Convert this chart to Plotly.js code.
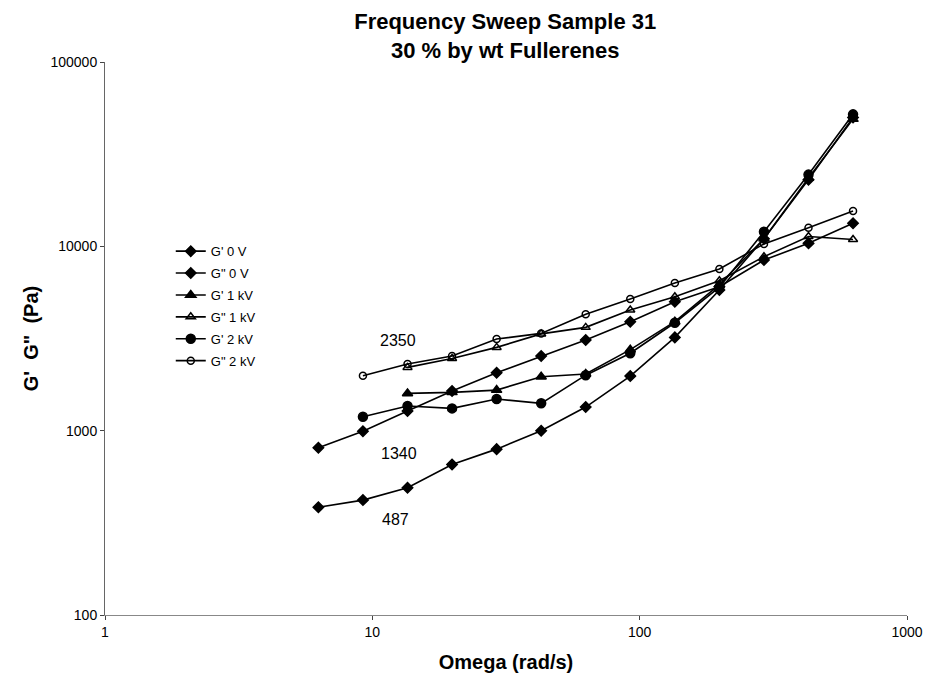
<!DOCTYPE html>
<html>
<head>
<meta charset="utf-8">
<script src="https://cdn.plot.ly/plotly-3.0.1.min.js"></script>
<style>html,body{margin:0;padding:0;background:#fff;}#chart{width:927px;height:682px;}</style>
</head>
<body>
<div id="chart"></div>
<script>
// Angular frequency (rad/s)
const omega = [6.283, 9.222, 13.54, 19.87, 29.17, 42.81, 62.83, 92.22, 135.4, 198.7, 291.7, 428.1, 628.3];

const seriesNames = ["G' 0 V", "G\" 0 V", "G' 1 kV", "G\" 1 kV", "G' 2 kV", "G\" 2 kV"];

// Moduli (Pa); null = not measured
const gp0V  = [384, 420, 490, 656, 794, 1000, 1343, 1977, 3207, 5800, 11000, 23000, 50000];
const gpp0V = [807, 992, 1277, 1640, 2061, 2541, 3103, 3898, 5010, 6040, 8430, 10380, 13330];
const gp1kV = [null, null, 1593, 1614, 1660, 1962, 2028, 2750, 3900, 6200, 11000, 23500, 49000];
const gpp1kV= [null, null, 2204, 2466, 2830, 3350, 3634, 4510, 5330, 6500, 8790, 11300, 10900];
const gp2kV = [null, 1189, 1360, 1321, 1484, 1407, 2000, 2630, 3850, 6000, 12000, 24500, 52000];
const gpp2kV= [null, 1986, 2298, 2540, 3140, 3370, 4276, 5175, 6320, 7530, 10300, 12620, 15550];

const yTickVals = [100, 1000, 10000, 100000];
const yTickText = ["100", "1000", "10000", "100000"];
const xTickVals = [1, 10, 100, 1000];
const xTickText = ["1", "10", "100", "1000"];

const labelTexts = ["2350", "1340", "487"];
const labelX = [12.5, 12.6, 12.2];
const labelY = [3100, 755, 330];

const FONT = "Arial, 'Liberation Sans', sans-serif";
const symbols = ["diamond", "diamond", "triangle-up", "triangle-up-open", "circle", "circle-open"];
const sizes = [8, 8, 9, 8, 9, 7];
const ys = [gp0V, gpp0V, gp1kV, gpp1kV, gp2kV, gpp2kV];

const traces = ys.map((y, i) => ({
  x: omega, y: y, name: seriesNames[i], type: "scatter", mode: "lines+markers",
  connectgaps: false, legendgroup: "g" + i,
  line: {color: "#000", width: 1.6},
  marker: {symbol: symbols[i], size: sizes[i], color: "#000", line: {color: "#000", width: 1.5}}
}));

const annotations = labelTexts.map((t, i) => ({
  x: Math.log10(labelX[i]), y: Math.log10(labelY[i]), xref: "x", yref: "y",
  text: t, showarrow: false, font: {family: FONT, size: 16, color: "#000"}
}));

const layout = {
  width: 927, height: 682,
  margin: {l: 105, r: 20, t: 62, b: 67},
  paper_bgcolor: "#fff", plot_bgcolor: "#fff",
  font: {family: FONT, color: "#000", size: 13},
  title: {text: "<b>Frequency Sweep Sample 31<br>30 % by wt Fullerenes</b>", font: {family: FONT, size: 22, color: "#000"},
          x: 0.545, xanchor: "center", y: 0.957, yanchor: "middle"},
  xaxis: {type: "log", range: [0, 3], tickvals: xTickVals, ticktext: xTickText,
          showgrid: false, zeroline: false, showline: true, linecolor: "#888", linewidth: 1,
          ticks: "outside", ticklen: 4, tickcolor: "#444",
          tickfont: {family: FONT, size: 14, color: "#000"},
          title: {text: "<b>Omega (rad/s)</b>", font: {family: FONT, size: 20, color: "#000"}, standoff: 16}},
  yaxis: {type: "log", range: [2, 5], tickvals: yTickVals, ticktext: yTickText,
          showgrid: false, zeroline: false, showline: true, linecolor: "#666", linewidth: 1,
          ticks: "outside", ticklen: 4, tickcolor: "#444",
          tickfont: {family: FONT, size: 14, color: "#000"},
          title: {text: "<b>G'  G\"  (Pa)</b>", font: {family: FONT, size: 20, color: "#000"}, standoff: 6}},
  legend: {x: 0.082, y: 0.685, xanchor: "left", yanchor: "top", bgcolor: "rgba(0,0,0,0)",
           font: {family: FONT, size: 13, color: "#000"}, tracegroupgap: 2, itemwidth: 30},
  showlegend: true,
  annotations: annotations
};

Plotly.newPlot("chart", traces, layout, {displayModeBar: false, staticPlot: true});
</script>
</body>
</html>
